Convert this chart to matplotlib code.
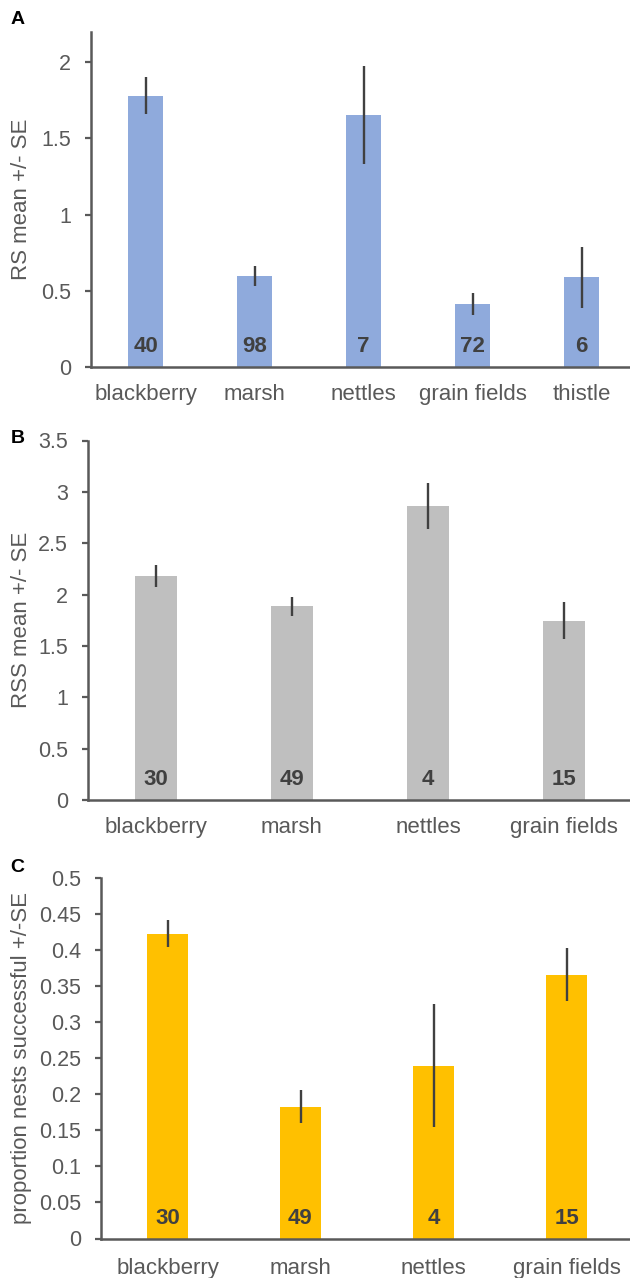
import matplotlib
matplotlib.use("Agg")
import matplotlib.pyplot as plt
import numpy as np
from matplotlib.ticker import FuncFormatter

plt.rcParams['font.family'] = ['Liberation Sans', 'DejaVu Sans']

# ---- data ----
cats_a = ['blackberry', 'marsh', 'nettles', 'grain fields', 'thistle']
rs_mean = [1.78, 0.597, 1.652, 0.413, 0.59]
rs_se = [0.12, 0.066, 0.32, 0.073, 0.20]
n_a = [40, 98, 7, 72, 6]

cats_bc = ['blackberry', 'marsh', 'nettles', 'grain fields']
rss_mean = [2.18, 1.885, 2.867, 1.746]
rss_se = [0.107, 0.095, 0.224, 0.178]
n_b = [30, 49, 4, 15]

succ_mean = [0.423, 0.183, 0.240, 0.366]
succ_se = [0.019, 0.023, 0.085, 0.037]
n_c = [30, 49, 4, 15]

W, H = 630, 1278
fig = plt.figure(figsize=(W / 100, H / 100), dpi=100)

AXIS_C = '#595959'
TEXT_C = '#595959'
ERR_C = '#404040'


def panel(rect_px, cats, means, ses, ns, color, ylim, ystep, xright, ylabel, letter, letter_xy, xpad=12):
    left, top, bottom = rect_px
    ax = fig.add_axes([left / W, 1 - bottom / H, 1 - left / W, (bottom - top) / H])
    x = np.arange(len(cats))
    ax.bar(x, means, width=0.315, color=color, zorder=2)
    ax.errorbar(x, means, yerr=ses, fmt='none', ecolor=ERR_C, elinewidth=1.7, capsize=0, zorder=3)
    # sample sizes inside the bars
    for xi, n in zip(x, ns):
        ax.annotate(str(n), (xi, 0), xytext=(0, 14.5), textcoords='offset points',
                    ha='center', va='center', fontsize=16, fontweight='bold', color=ERR_C, zorder=4)
    ax.set_xlim(-0.5, xright)
    ax.set_ylim(*ylim)
    ax.set_yticks(np.arange(0, ylim[1] + 1e-9, ystep))
    ax.yaxis.set_major_formatter(FuncFormatter(lambda v, p: '%g' % round(v, 3)))
    ax.set_xticks(x)
    ax.set_xticklabels(cats)
    for s in ['top', 'right']:
        ax.spines[s].set_visible(False)
    for s in ['left', 'bottom']:
        ax.spines[s].set_color(AXIS_C)
        ax.spines[s].set_linewidth(1.8)
    ax.tick_params(axis='y', direction='out', length=4, width=1.6, color=AXIS_C,
                   labelsize=15.5, labelcolor=TEXT_C, pad=10.5)
    ax.tick_params(axis='x', length=0, labelsize=16, labelcolor=TEXT_C, pad=xpad)
    cy = 1 - (top + bottom) / 2 / H
    fig.text(22 / W, cy, ylabel, rotation=90, ha='center', va='center', fontsize=16, color=TEXT_C)
    fig.text(letter_xy[0] / W, 1 - letter_xy[1] / H, letter, ha='center', va='center',
             fontsize=14, fontweight='bold', color='black')
    return ax


panel((91, 31.7, 367), cats_a, rs_mean, rs_se, n_a, '#8FAADC', (0, 2.2), 0.5,
      -0.5 + 539 / 109, 'RS mean +/- SE', 'A', (17.5, 19.5))
panel((88, 440.5, 800), cats_bc, rss_mean, rss_se, n_b, '#BFBFBF', (0, 3.5), 0.5,
      -0.5 + 542 / 136, 'RSS mean +/- SE', 'B', (18, 438))
panel((101, 878.3, 1238.5), cats_bc, succ_mean, succ_se, n_c, '#FFC000', (0, 0.5), 0.05,
      -0.5 + 529 / 133, 'proportion nests successful +/-SE', 'C', (17, 867.5), xpad=14)

fig.savefig('out.png', dpi=100)
